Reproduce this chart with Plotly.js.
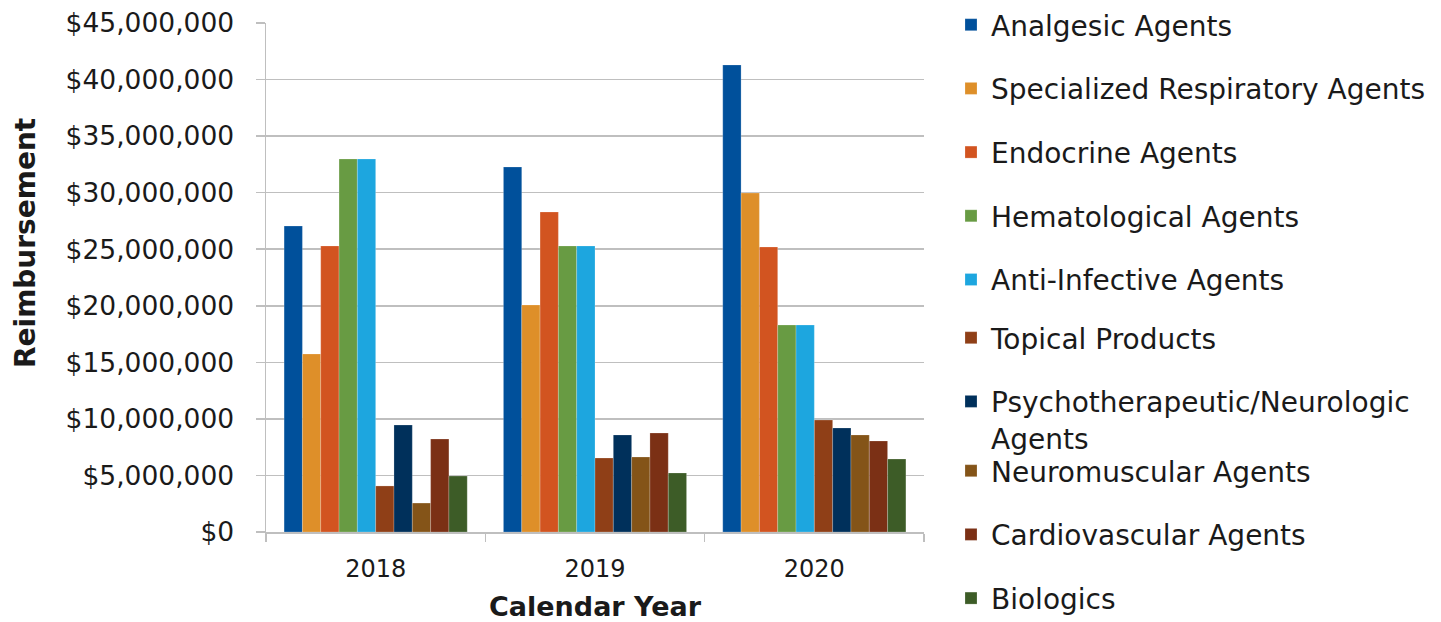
<!DOCTYPE html>
<html>
<head>
<meta charset="utf-8">
<script src="https://cdn.plot.ly/plotly-3.0.1.min.js"></script>
<style>html,body{margin:0;padding:0;background:#fff;}#chart{width:1441px;height:622px;}</style>
</head>
<body>
<div id="chart"></div>
<script>
const years = ['2018', '2019', '2020'];
const seriesNames = [
  'Analgesic Agents',
  'Specialized Respiratory Agents',
  'Endocrine Agents',
  'Hematological Agents',
  'Anti-Infective Agents',
  'Topical Products',
  'Psychotherapeutic/Neurologic<br>Agents',
  'Neuromuscular Agents',
  'Cardiovascular Agents',
  'Biologics'
];
const analgesic      = [27050000, 32270000, 41290000];
const specRespiratory = [15740000, 20070000, 29970000];
const endocrine      = [25290000, 28290000, 25200000];
const hematological  = [32980000, 25290000, 18300000];
const antiInfective  = [32980000, 25290000, 18300000];
const topical        = [4070000, 6540000, 9900000];
const psychoNeuro    = [9460000, 8580000, 9200000];
const neuromuscular  = [2560000, 6630000, 8580000];
const cardiovascular = [8220000, 8750000, 8050000];
const biologics      = [4950000, 5220000, 6450000];
const seriesValues = [analgesic, specRespiratory, endocrine, hematological, antiInfective,
                      topical, psychoNeuro, neuromuscular, cardiovascular, biologics];
const colors = ['#00509B', '#DE8F29', '#D25420', '#689B43', '#1DA6DF',
                '#8F3F17', '#00305B', '#845418', '#7B3015', '#3D5C27'];

const FONT = 'DejaVu Sans, sans-serif';
function legendFor(i) { return i < 5 ? 'legend' : (i < 7 ? 'legend2' : 'legend3'); }
const traces = seriesNames.map((n, i) => ({
  type: 'bar',
  name: n,
  x: years,
  y: seriesValues[i],
  marker: {color: colors[i], line: {color: 'rgba(255,255,255,0.35)', width: 0.6}},
  legendgroup: 'g' + i,
  legend: legendFor(i),
  hoverinfo: 'x+y+name'
}));

const legendCommon = {
  xref: 'container', yref: 'container',
  xanchor: 'left', yanchor: 'top',
  font: {family: FONT, size: 28, color: '#1a1a1a'},
  tracegroupgap: 24.3,
  valign: 'top',
  bgcolor: 'rgba(0,0,0,0)',
  borderwidth: 0
};
const LX = 951 / 1441;

const layout = {
  width: 1441, height: 622,
  margin: {l: 266, r: 517, t: 23, b: 90},
  paper_bgcolor: '#fff', plot_bgcolor: '#fff',
  font: {family: FONT, color: '#1a1a1a'},
  barmode: 'group',
  bargap: 0.165,
  bargroupgap: 0,
  showlegend: true,
  legend: Object.assign({}, legendCommon, {x: LX, y: 1}),
  legend2: Object.assign({}, legendCommon, {x: LX, y: 1 - 313 / 622}),
  legend3: Object.assign({}, legendCommon, {x: LX, y: 1 - 446 / 622}),
  xaxis: {
    type: 'category',
    tickson: 'boundaries',
    ticks: 'outside', ticklen: 8, tickcolor: '#BFBFBF', tickwidth: 1.5,
    showline: true, linecolor: '#BFBFBF', linewidth: 1.5,
    showgrid: false,
    tickfont: {family: FONT, size: 24, color: '#1a1a1a'},
    ticklabelstandoff: 15,
    title: {text: 'Calendar Year', font: {family: FONT, size: 27, color: '#1a1a1a', weight: 'bold'}, standoff: 19}
  },
  yaxis: {
    range: [0, 45000000],
    dtick: 5000000,
    tickformat: '$,.0f',
    ticks: 'outside', ticklen: 9, tickcolor: '#BFBFBF', tickwidth: 1.5,
    showline: true, linecolor: '#BFBFBF', linewidth: 1.5,
    showgrid: true, gridcolor: '#BFBFBF', gridwidth: 1.5,
    zeroline: false,
    tickfont: {family: FONT, size: 26.5, color: '#1a1a1a'},
    ticklabelstandoff: 16
  },
  annotations: [{
    text: 'Reimbursement',
    xref: 'paper', yref: 'paper',
    x: (25 - 266) / 658, y: (532 - 243) / 509,
    xanchor: 'center', yanchor: 'middle',
    textangle: -90, showarrow: false,
    font: {family: FONT, size: 28, color: '#1a1a1a', weight: 'bold'}
  }]
};

Plotly.newPlot('chart', traces, layout, {displayModeBar: false, staticPlot: true});
</script>
</body>
</html>
